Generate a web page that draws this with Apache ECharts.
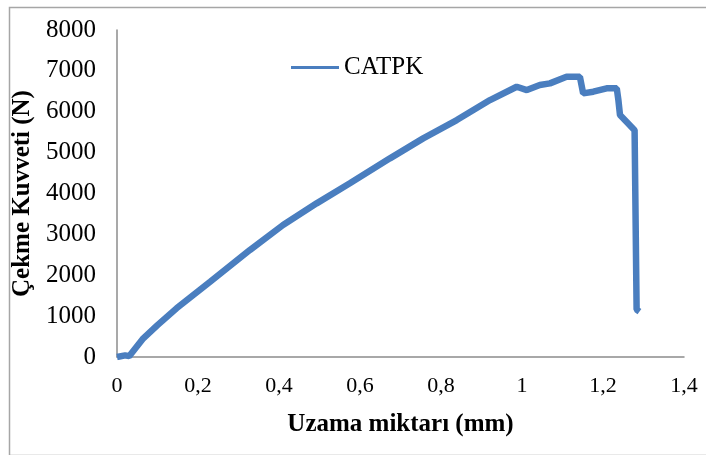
<!DOCTYPE html>
<html>
<head>
<meta charset="utf-8">
<script src="https://cdn.jsdelivr.net/npm/echarts@6/dist/echarts.min.js"></script>
<style>html,body{margin:0;padding:0;background:#fff}#c{width:706px;height:455px}</style>
</head>
<body>
<div id="c"></div>
<script>
var seriesName = 'CATPK';
var elongation = [0, 0.02, 0.03, 0.065, 0.10, 0.147, 0.23, 0.328, 0.41, 0.493, 0.575, 0.674, 0.756, 0.839, 0.921, 0.987, 1.012, 1.044, 1.069, 1.11, 1.143, 1.147, 1.151, 1.176, 1.209, 1.234, 1.238, 1.242, 1.258, 1.278, 1.283, 1.29];
var force = [0, 40, 20, 457, 780, 1191, 1842, 2617, 3229, 3759, 4249, 4860, 5349, 5797, 6286, 6611, 6530, 6653, 6694, 6856, 6856, 6653, 6450, 6490, 6572, 6572, 6286, 5919, 5756, 5550, 1160, 1110];
var xTitle = 'Uzama miktarı (mm)';
var yTitle = 'Çekme Kuvveti (N)';

var pts = elongation.map(function (x, i) { return [x, force[i]]; });
var chart = echarts.init(document.getElementById('c'), null, {renderer: 'canvas'});
var font = '"Liberation Serif", "Times New Roman", serif';
chart.setOption({
  animation: false,
  backgroundColor: '#fff',
  graphic: [{
    type: 'rect', left: 7, top: 5, shape: {width: 710, height: 448},
    style: {fill: 'none', stroke: '#a6a6a6', lineWidth: 1.5}, z: -1
  }],
  grid: {left: 117, right: 22, top: 30, bottom: 98},
  legend: {
    left: 286, top: 50, itemWidth: 48, itemHeight: 12,
    textStyle: {fontFamily: font, fontSize: 25, color: '#000'},
    data: [{name: seriesName, icon: 'path://M0,5 L48,5 L48,8 L0,8 Z'}]
  },
  xAxis: {
    type: 'value', min: 0, max: 1.4, interval: 0.2,
    name: xTitle, nameLocation: 'middle', nameGap: 55,
    nameTextStyle: {fontFamily: font, fontSize: 25, fontWeight: 'bold', color: '#000'},
    axisLine: {show: true, lineStyle: {color: '#8c8c8c', width: 1.5}},
    axisTick: {show: false},
    splitLine: {show: false},
    axisLabel: {
      fontFamily: font, fontSize: 22, color: '#000', margin: 18,
      formatter: function (v) { return String(Math.round(v * 10) / 10).replace('.', ','); }
    }
  },
  yAxis: {
    type: 'value', min: 0, max: 8000, interval: 1000,
    name: yTitle, nameLocation: 'middle', nameGap: 67, nameRotate: 90,
    nameTextStyle: {fontFamily: font, fontSize: 25, fontWeight: 'bold', color: '#000'},
    axisLine: {show: true, lineStyle: {color: '#8c8c8c', width: 1.5}},
    axisTick: {show: false},
    splitLine: {show: false},
    axisLabel: {fontFamily: font, fontSize: 25, color: '#000', margin: 21,
      formatter: function (v) { return String(v); }}
  },
  series: [{
    name: seriesName, type: 'line', data: pts,
    symbol: 'none', smooth: false,
    lineStyle: {color: '#4a7ebf', width: 6.5},
    itemStyle: {color: '#4a7ebf'}
  }]
});
</script>
</body>
</html>
